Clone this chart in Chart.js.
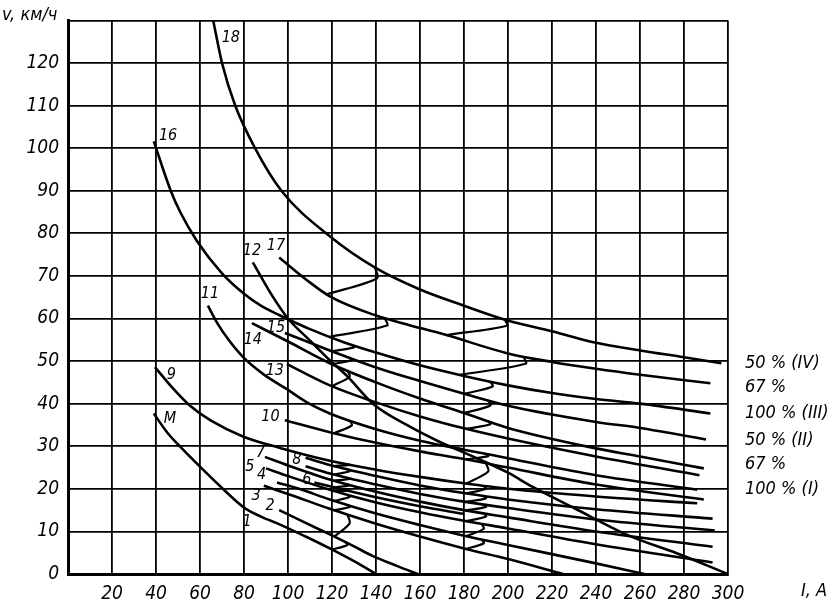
<!DOCTYPE html>
<html>
<head>
<meta charset="utf-8">
<script src="https://cdn.jsdelivr.net/npm/chart.js@4/dist/chart.umd.min.js"></script>
<style>
  body { margin: 0; background: #fff; }
  canvas { display: block; }
</style>
</head>
<body>
<canvas id="tractionChart" width="837" height="609"></canvas>
<script>
// axis ticks
const currentTicks = [0, 20, 40, 60, 80, 100, 120, 140, 160, 180, 200, 220, 240, 260, 280, 300];
const speedTicks = [0, 10, 20, 30, 40, 50, 60, 70, 80, 90, 100, 110, 120, 130];

// speed curves v(I): [current A, speed km/h]
const curve18 = [[66, 130], [70, 120], [76, 110], [85, 100], [97, 90], [119, 79.3], [140, 71.8], [160, 66.8], [180, 63], [200, 59.5], [220, 57], [240, 54.3], [260, 52.5], [280, 50.9], [297, 49.5]];
const curve17 = [[96, 74.3], [108.6, 69], [119, 65.2], [140, 60.7], [152, 58.9], [172, 56.1], [200, 51.8], [220, 49.8], [240, 48.2], [260, 46.8], [292, 44.8]];
const curve16 = [[39, 101.6], [46.7, 90], [51, 85], [58.6, 78.2], [70, 70.6], [80, 65.8], [88, 62.9], [96.4, 60.7], [110, 57.5], [125, 54.5], [140, 52], [160, 49], [180, 46.5], [200, 44.3], [220, 42.5], [240, 41.1], [260, 40], [292, 37.7]];
const curve15 = [[98.6, 56.6], [119, 52.5], [140, 48.5], [160, 45.3], [180, 42.3], [200, 39.5], [240, 35.7], [260, 34.3], [290, 31.6]];
const curve14 = [[83.6, 58.9], [100, 54.6], [119, 49.5], [140, 45], [160, 41.2], [180, 37.8], [200, 34.3], [240, 29.5], [260, 27.6], [289, 24.8]];
const curve13 = [[99.5, 49.3], [119, 44.3], [140, 40.3], [160, 37], [180, 34.2], [200, 31.8], [240, 27.6], [287, 23.2]];
const curve12 = [[84, 73.2], [93, 65.2], [100, 60], [110, 54.8], [119, 50.2], [127, 46.4], [138.6, 40], [154, 35], [169, 31], [180, 28.5], [200, 23.8], [211, 20.5], [230, 15.5], [255, 9], [277, 4.8], [300, 0]];
const curve11 = [[63.6, 63], [68, 58.8], [73, 55], [79.5, 51], [88.6, 47], [99.5, 43.4], [108.6, 40.3], [119, 37.7], [140, 34], [160, 31.3], [180, 29.2], [200, 27.2], [240, 23.2], [286, 19.8]];
const curve10 = [[98.6, 36.1], [119, 33.3], [140, 30.8], [160, 28.8], [180, 27], [200, 25], [240, 21], [289, 17.5]];
const curve9 = [[39.5, 48.6], [47, 44], [55.5, 39.5], [65, 36], [79.5, 32.3], [96.4, 29.6], [119, 26.6], [140, 24.5], [160, 22.8], [180, 21.3], [200, 20], [240, 18.2], [286, 16.6]];
const curve8a = [[108, 27.3], [119, 25.6], [140, 23], [160, 20.8], [180, 19], [200, 17.5], [240, 15.2], [293, 13]];
const curve8b = [[108, 25.3], [119, 23.6], [140, 21], [160, 18.8], [180, 17], [200, 15.5], [240, 12.8], [294, 10.2]];
const curve7 = [[89.5, 27.5], [100, 25.5], [119, 22.2], [140, 19.3], [160, 17], [180, 15], [200, 13.3], [240, 10], [293, 6.4]];
const curve6 = [[112, 21.5], [119, 20.6], [140, 18], [160, 15.9], [180, 14.1]];
const curve5 = [[90, 24.8], [100, 23], [119, 19.8], [140, 16.8], [160, 14.5], [180, 12.5], [200, 10.7], [240, 7], [293, 2.7]];
const curve4 = [[95, 21.5], [105, 20], [119, 17.5], [140, 14.2], [160, 11.5], [180, 9], [200, 6.8], [240, 2.5], [262, 0]];
const curve3 = [[89, 20.7], [100, 18.8], [119, 15.3], [140, 11.8], [160, 8.8], [180, 6], [200, 3.5], [225, 0]];
const curve2 = [[96, 15], [108, 12], [119, 9.3], [130, 6.5], [138.6, 4.2], [150, 1.8], [159, 0]];
const curveM = [[39, 37.7], [45, 33.3], [51, 29.9], [60, 25.2], [70, 20.2], [80, 15.6], [88, 13.4], [96.4, 11.6], [108, 8.8], [119, 6], [130, 3], [140, 0]];

// field-step transitions: [from curve, to curve, I start, I end]
const transitions = [
  ['17', '18', 117.7, 140.5], ['17', '18', 172, 199.5],
  ['16', '17', 119, 145], ['16', '17', 178, 208],
  ['15', '16', 120, 130], ['15', '16', 180, 193],
  ['14', '15', 120, 129], ['14', '15', 180, 192],
  ['13', '14', 120, 128], ['13', '14', 181, 192],
  ['10', '11', 121, 129], ['10', '11', 181, 191],
  ['9', '10', 181, 191],
  ['8a', '9', 121, 128], ['8a', '9', 181, 190],
  ['8b', '8a', 121, 128], ['8b', '8a', 181, 190],
  ['7', '8b', 121, 128], ['7', '8b', 181, 190],
  ['6', '7', 121, 128],
  ['5', '6', 121, 128], ['5', '7', 181, 190],
  ['4', '5', 121, 128], ['4', '5', 181, 189],
  ['3', '4', 121, 128], ['3', '4', 181, 189],
  ['2', '3', 121, 128],
  ['M', '2', 120, 127]
];

const curveLabels = [
  ['18', 74, 126], ['16', 45.5, 102.8], ['12', 83.6, 76], ['17', 94.5, 77],
  ['11', 64.5, 65.7], ['14', 84, 55], ['15', 94.5, 57.7], ['13', 94, 47.7],
  ['9', 47, 46.8], ['10', 92, 36.8], ['M', 46.4, 36.4], ['7', 87.5, 28.4],
  ['5', 82.7, 25.2], ['4', 88, 23.4], ['3', 85.5, 18.4], ['2', 91.8, 16.1],
  ['1', 81.4, 12.3], ['8', 104, 26.8], ['6', 108.6, 22]
];

const fieldLabels = ['50 % (IV)', '67 %', '100 % (III)', '50 % (II)', '67 %', '100 % (I)'];
const fieldLabelSpeeds = [49.5, 43.8, 37.7, 31.4, 25.7, 19.8];

const FONT = "'DejaVu Sans Condensed', 'DejaVu Sans', sans-serif";

const curveByName = {
  '18': curve18, '17': curve17, '16': curve16, '15': curve15, '14': curve14, '13': curve13,
  '12': curve12, '11': curve11, '10': curve10, '9': curve9, '8a': curve8a, '8b': curve8b,
  '7': curve7, '6': curve6, '5': curve5, '4': curve4, '3': curve3, '2': curve2, 'M': curveM
};

function speedAt(curve, current) {
  for (let i = 1; i < curve.length; i++) {
    if (current <= curve[i][0]) {
      const a = curve[i - 1], b = curve[i];
      return a[1] + (b[1] - a[1]) * (current - a[0]) / (b[0] - a[0]);
    }
  }
  return curve[curve.length - 1][1];
}

const datasets = Object.keys(curveByName).map(k => ({
  data: curveByName[k].map(p => ({ x: p[0], y: p[1] })),
  borderColor: '#000',
  borderWidth: 2.6,
  pointRadius: 0,
  cubicInterpolationMode: 'monotone',
  fill: false
}));

transitions.forEach(t => {
  const v1 = speedAt(curveByName[t[0]], t[2]);
  const v2 = speedAt(curveByName[t[1]], t[3] - 1);
  const dv = v2 - v1;
  datasets.push({
    data: [
      { x: t[2], y: v1 },
      { x: t[3], y: v1 + dv * 0.6 },
      { x: t[3] - 1, y: v2 }
    ],
    borderColor: '#000',
    borderWidth: 2.2,
    pointRadius: 0,
    tension: 0.3,
    fill: false
  });
});

const textPlugin = {
  id: 'chartTexts',
  afterDatasetsDraw(chart) {
    const ctx = chart.ctx;
    const xs = chart.scales.x, ys = chart.scales.y;
    ctx.save();
    ctx.fillStyle = '#000';
    ctx.font = 'italic 16px ' + FONT;
    ctx.textAlign = 'center';
    ctx.textBaseline = 'middle';
    curveLabels.forEach(l => {
      ctx.fillText(l[0], xs.getPixelForValue(l[1]), ys.getPixelForValue(l[2]));
    });
    ctx.font = 'italic 18px ' + FONT;
    ctx.textAlign = 'left';
    const lx = xs.getPixelForValue(300) + 17;
    fieldLabels.forEach((t, i) => {
      ctx.fillText(t, lx, ys.getPixelForValue(fieldLabelSpeeds[i]));
    });
    ctx.fillText('v, км/ч', 2, 15);
    ctx.fillText('I, A', 801, 591);
    ctx.restore();
  }
};

new Chart(document.getElementById('tractionChart').getContext('2d'), {
  type: 'line',
  data: { datasets: datasets },
  options: {
    responsive: false,
    animation: false,
    layout: { padding: { left: 0, right: 109, top: 3, bottom: 0 } },
    plugins: { legend: { display: false }, tooltip: { enabled: false } },
    scales: {
      x: {
        type: 'linear',
        min: 0,
        max: 300,
        afterBuildTicks: s => { s.ticks = currentTicks.map(v => ({ value: v })); },
        afterFit: s => { s.height = 35; },
        grid: { color: '#000', lineWidth: 1.8, drawTicks: false },
        border: { color: '#000', width: 3 },
        ticks: {
          color: '#000',
          padding: 9,
          maxRotation: 0,
          autoSkip: false,
          font: { family: FONT, size: 19, style: 'italic' },
          callback: v => (v === 0 ? '' : v)
        }
      },
      y: {
        type: 'linear',
        min: 0,
        max: 130,
        afterBuildTicks: s => { s.ticks = speedTicks.map(v => ({ value: v })); },
        afterFit: s => { s.width = 68; },
        grid: { color: '#000', lineWidth: 1.8, drawTicks: false },
        border: { color: '#000', width: 3 },
        ticks: {
          color: '#000',
          padding: 9,
          autoSkip: false,
          font: { family: FONT, size: 19, style: 'italic' },
          callback: v => (v === 130 ? '' : v)
        }
      }
    }
  },
  plugins: [textPlugin]
});
</script>
</body>
</html>
